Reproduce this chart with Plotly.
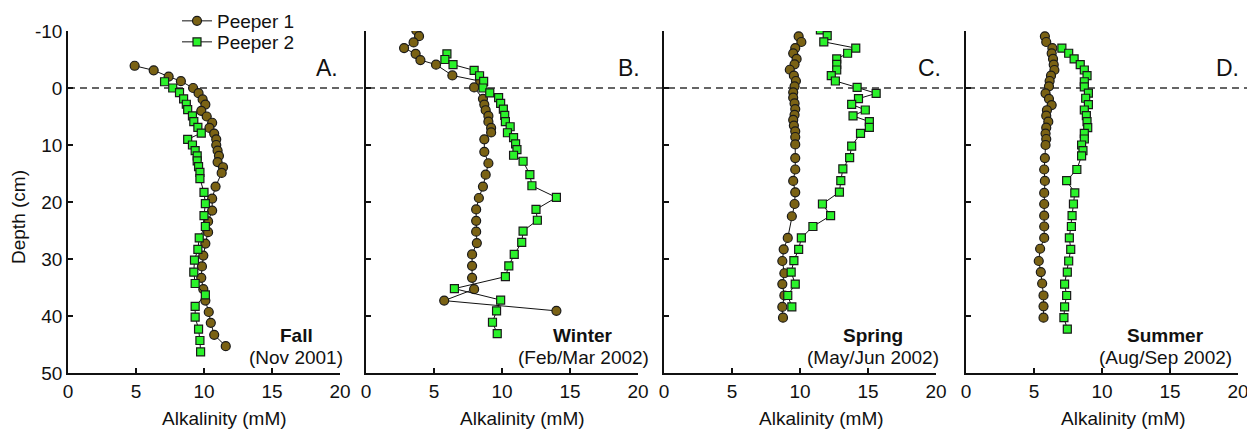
import plotly.graph_objects as go

# ---------------- data ----------------
depth_ticks = [-10, 0, 10, 20, 30, 40, 50]
depth_ticktext = ["-10", "0", "10", "20", "30", "40", "50"]
alk_ticks = [0, 5, 10, 15, 20]
alk_ticktext = ["0", "5", "10", "15", "20"]

panel_letters = ["A.", "B.", "C.", "D."]
season_names = ["Fall", "Winter", "Spring", "Summer"]
season_dates = ["(Nov 2001)", "(Feb/Mar 2002)", "(May/Jun 2002)", "(Aug/Sep 2002)"]
series_names = ["Peeper 1", "Peeper 2"]

A_p1_depth = [-3.9, -3.1, -2.0, -1.2, 0.0, 0.9, 2.0, 2.9, 4.0, 5.0, 6.1, 7.0, 8.0, 9.0, 10.0, 11.0, 11.9, 13.0,
              13.9, 14.9, 17.3, 19.4, 21.5, 23.4, 25.3, 27.3, 29.4, 31.3, 33.3, 35.3, 37.3, 39.3, 41.2, 43.3, 45.3]
A_p1_alk = [4.9, 6.3, 7.4, 8.3, 9.2, 9.6, 9.9, 10.1, 9.8, 10.2, 10.6, 10.4, 10.75, 10.9, 10.9, 11.0, 11.1, 11.0,
            11.4, 11.3, 10.85, 10.6, 10.6, 10.3, 10.3, 10.1, 9.95, 9.85, 9.8, 9.95, 10.1, 10.35, 10.5, 10.75, 11.6]
A_p2_depth = [-1.1, 0.0, 0.8, 1.9, 2.85, 3.8, 4.9, 5.9, 6.9, 7.9, 9.0, 10.0, 11.0, 11.9, 12.8, 13.8, 14.8, 15.9,
              18.3, 20.3, 22.4, 24.3, 26.3, 28.3, 30.2, 32.3, 34.3, 36.3, 38.3, 40.2, 42.3, 44.3, 46.3]
A_p2_alk = [7.1, 7.7, 8.2, 8.5, 8.7, 8.8, 9.15, 9.25, 9.55, 9.8, 8.8, 9.15, 9.35, 9.5, 9.5, 9.6, 9.7, 9.7,
            10.0, 10.1, 10.0, 10.1, 9.65, 9.55, 9.3, 9.25, 9.35, 10.1, 9.35, 9.35, 9.6, 9.7, 9.75]

B_p1_depth = [-10.1, -9.1, -8.0, -7.0, -6.0, -4.9, -4.1, -2.2, -1.2, -0.1, 1.9, 2.9, 3.9, 4.9, 5.9, 7.0, 7.8,
              9.0, 11.2, 13.2, 15.2, 17.3, 19.3, 21.3, 23.3, 25.2, 27.2, 29.2, 31.2, 33.3, 35.3, 37.3, 39.1]
B_p1_alk = [3.7, 3.9, 3.5, 2.8, 3.65, 4.0, 5.15, 6.35, 8.4, 7.95, 8.6, 8.7, 8.8, 9.0, 9.0, 9.2, 9.2,
            8.7, 8.7, 9.0, 8.8, 8.6, 8.3, 8.1, 8.1, 8.1, 8.15, 7.8, 7.8, 7.8, 7.95, 5.75, 14.0]
B_p2_depth = [-6.0, -5.0, -4.1, -3.1, -2.15, -1.16, 0.0, 0.85, 1.7, 2.7, 3.7, 4.8, 5.9, 6.8, 7.85, 8.7, 9.8,
              10.8, 11.8, 12.85, 15.2, 17.15, 19.2, 21.3, 23.2, 25.1, 27.1, 29.2, 31.2, 33.1, 35.2, 37.2, 39.1,
              41.1, 43.1]
B_p2_alk = [5.95, 5.8, 6.4, 7.95, 8.35, 8.65, 8.6, 9.1, 9.75, 9.9, 10.1, 10.2, 10.25, 10.6, 10.4, 10.85, 11.0,
            11.1, 10.85, 11.55, 12.05, 12.2, 14.0, 12.5, 12.6, 11.55, 11.45, 10.9, 10.5, 10.25, 6.5, 9.9, 9.6,
            9.3, 9.65]

C_p1_depth = [-9.06, -8.07, -7.0, -6.08, -5.1, -4.15, -3.2, -2.16, -1.23, -0.3, 0.76, 1.7, 2.7, 3.7, 4.7, 5.6,
              6.6, 7.6, 8.6, 9.9, 12.3, 14.3, 16.3, 18.3, 20.35, 22.5, 26.3, 28.3, 30.35, 32.5, 34.4, 36.4, 38.4,
              40.3]
C_p1_alk = [9.9, 10.1, 9.65, 9.5, 9.75, 9.6, 9.25, 9.55, 9.7, 9.6, 9.5, 9.5, 9.6, 9.65, 9.6, 9.5,
            9.55, 9.65, 9.65, 9.65, 9.65, 9.65, 9.5, 9.65, 9.6, 9.4, 9.1, 8.8, 8.7, 8.85, 8.7, 8.85, 8.7,
            8.75]
C_p2_depth = [-10.2, -9.2, -8.1, -7.0, -6.1, -5.1, -4.15, -3.16, -2.16, -1.23, -0.1, 0.94, 1.87, 2.87, 3.86,
              4.9, 5.9, 6.9, 7.95, 10.2, 12.2, 14.2, 16.25, 18.25, 20.35, 22.4, 24.3, 26.3, 28.3, 30.3, 32.3,
              34.4, 36.4, 38.4]
C_p2_alk = [11.5, 12.0, 11.75, 14.1, 13.5, 12.7, 12.7, 12.7, 12.3, 12.6, 14.2, 15.6, 14.3, 13.8, 14.8,
            13.9, 15.1, 15.1, 14.45, 13.8, 13.65, 13.15, 13.0, 12.9, 11.65, 12.25, 10.95, 10.1, 9.9, 9.55, 9.35,
            9.65, 9.1, 9.4]

D_p1_depth = [-9.06, -8.07, -7.0, -6.08, -5.1, -4.1, -3.16, -2.16, -1.23, -0.3, 0.94, 1.9, 3.0, 3.9, 4.85,
              5.9, 6.96, 8.0, 8.95, 10.0, 12.3, 14.3, 16.3, 18.4, 20.35, 22.4, 24.3, 26.3, 28.2, 30.35, 32.3,
              34.3, 36.4, 38.3, 40.3]
D_p1_alk = [5.8, 5.9, 6.35, 6.3, 6.4, 6.45, 6.5, 6.25, 6.15, 6.1, 5.85, 6.1, 6.3, 5.95, 5.9,
            6.05, 5.9, 5.85, 5.9, 5.85, 5.8, 5.75, 5.8, 5.75, 5.75, 5.75, 5.75, 5.75, 5.45, 5.35, 5.5,
            5.6, 5.7, 5.7, 5.7]
D_p2_depth = [-7.0, -6.1, -5.1, -4.1, -3.16, -2.16, -1.1, -0.2, 0.9, 1.8, 2.9, 3.86, 4.85, 5.9, 6.96, 7.95,
              8.95, 10.0, 11.0, 11.9, 14.3, 16.25, 18.4, 20.35, 22.4, 24.3, 26.3, 28.3, 30.35, 32.3, 34.4, 36.4,
              38.4, 40.3, 42.3]
D_p2_alk = [7.05, 7.55, 7.95, 8.4, 8.7, 8.9, 8.7, 8.7, 9.0, 8.8, 9.0, 8.7, 8.85, 8.9, 8.95, 8.7,
            8.7, 8.5, 8.6, 8.5, 8.15, 7.4, 8.0, 7.9, 7.8, 7.75, 7.6, 7.7, 7.55, 7.45, 7.25, 7.4,
            7.25, 7.2, 7.45]

panels = [
    (A_p1_alk, A_p1_depth, A_p2_alk, A_p2_depth),
    (B_p1_alk, B_p1_depth, B_p2_alk, B_p2_depth),
    (C_p1_alk, C_p1_depth, C_p2_alk, C_p2_depth),
    (D_p1_alk, D_p1_depth, D_p2_alk, D_p2_depth),
]

# ---------------- layout geometry ----------------
# The page body has an 8px margin, so the figure is drawn at (8, 8) in the window.
OFF = 8
WIN_W, WIN_H = 1255, 430
W, H = WIN_W - OFF, WIN_H - OFF
# target positions below are in window pixels
AX_LEFT, AX_RIGHT, AX_TOP, AX_BOTTOM = 68, 1238, 31, 373
ML = AX_LEFT - OFF
MR = WIN_W - AX_RIGHT
MT = AX_TOP - OFF
MB = WIN_H - AX_BOTTOM
PW = W - ML - MR
PH = H - MT - MB
panel_left_px = [68, 366, 664, 966]
panel_w_px = 272


def px2x(px):
    return (px - AX_LEFT) / PW


def px2y(py):
    return (AX_BOTTOM - py) / PH


def cx(px):
    return (px - OFF) / W


def cy(py):
    return 1 - (py - OFF) / H


FONT = "Liberation Sans, Arial, Helvetica, sans-serif"
P1_FILL = "#7a6214"
P2_FILL = "#2af22a"
EDGE = "#1a1a1a"

fig = go.Figure()

for i, (x1, y1, x2, y2) in enumerate(panels):
    xa = "x" if i == 0 else f"x{i+1}"
    ya = "y" if i == 0 else f"y{i+1}"
    fig.add_trace(go.Scatter(
        x=x1, y=y1, xaxis=xa, yaxis=ya, mode="lines+markers", name=series_names[0],
        legend="legend", legendgroup="p1", showlegend=(i == 0),
        line=dict(color="#111111", width=1),
        marker=dict(symbol="circle", size=9, color=P1_FILL, line=dict(color=EDGE, width=1.2)),
    ))
    fig.add_trace(go.Scatter(
        x=x2, y=y2, xaxis=xa, yaxis=ya, mode="lines+markers", name=series_names[1],
        legend="legend2", legendgroup="p2", showlegend=(i == 0),
        line=dict(color="#111111", width=1),
        marker=dict(symbol="square", size=8, color=P2_FILL, line=dict(color=EDGE, width=1.2)),
    ))

legend_common = dict(
    xref="container", yref="container",
    xanchor="left", yanchor="middle",
    bgcolor="rgba(0,0,0,0)", borderwidth=0,
    font=dict(family=FONT, size=19, color="#111111"),
    itemwidth=30, tracegroupgap=0,
)

layout = dict(
    width=W, height=H,
    margin=dict(l=ML, r=MR, t=MT, b=MB, pad=0, autoexpand=False),
    paper_bgcolor="white", plot_bgcolor="white",
    font=dict(family=FONT, size=19, color="#111111"),
    showlegend=True,
    legend=dict(x=cx(177), y=cy(21), **legend_common),
    legend2=dict(x=cx(177), y=cy(42), **legend_common),
)

for i in range(4):
    sx = "" if i == 0 else str(i + 1)
    d0 = px2x(panel_left_px[i])
    d1 = min(1.0, px2x(panel_left_px[i] + panel_w_px))
    layout[f"xaxis{sx}"] = dict(
        domain=[d0, d1], range=[0, 20], anchor=f"y{sx}",
        tickvals=alk_ticks, ticktext=alk_ticktext,
        ticks="inside", ticklen=5, tickwidth=1.5, tickcolor="#111111",
        showline=True, linecolor="#111111", linewidth=1.5,
        showgrid=False, zeroline=False, fixedrange=True,
        tickfont=dict(family=FONT, size=19),
    )
    layout[f"yaxis{sx}"] = dict(
        domain=[0, 1], range=[50, -10], anchor=f"x{sx}",
        tickvals=depth_ticks, ticktext=depth_ticktext,
        showticklabels=(i == 0),
        ticks="inside", ticklen=5, tickwidth=1.5, tickcolor="#111111",
        showline=True, linecolor="#111111", linewidth=1.5,
        showgrid=False, zeroline=False, fixedrange=True,
        tickfont=dict(family=FONT, size=19),
    )

fig.update_layout(**layout)

# dashed sediment-water interface line at depth 0
fig.add_shape(type="line", xref="paper", yref="y", x0=0, x1=px2x(WIN_W), y0=0, y1=0,
              line=dict(color="#333333", width=1.3, dash="7px,5px"), layer="below")

annotations = []
letter_right_px = [340, 642, 943, 1241]
season_center_px = [296, 583, 873, 1165]
title_center_px = [224, 522, 821, 1123]
for i in range(4):
    annotations.append(dict(text=panel_letters[i], xref="paper", yref="paper",
                            x=px2x(letter_right_px[i]), y=px2y(68), xanchor="right", yanchor="middle",
                            showarrow=False, font=dict(family=FONT, size=23)))
    annotations.append(dict(text=f"<b>{season_names[i]}</b>", xref="paper", yref="paper",
                            x=px2x(season_center_px[i]), y=px2y(335), xanchor="center", yanchor="middle",
                            showarrow=False, font=dict(family=FONT, size=19)))
    annotations.append(dict(text=season_dates[i], xref="paper", yref="paper",
                            x=px2x(season_center_px[i]), y=px2y(357), xanchor="center", yanchor="middle",
                            showarrow=False, font=dict(family=FONT, size=19)))
    annotations.append(dict(text="Alkalinity (mM)", xref="paper", yref="paper",
                            x=px2x(title_center_px[i]), y=px2y(418), xanchor="center", yanchor="middle",
                            showarrow=False, font=dict(family=FONT, size=19)))
annotations.append(dict(text="Depth (cm)", xref="paper", yref="paper", textangle=-90,
                        x=px2x(18), y=px2y(217), xanchor="center", yanchor="middle",
                        showarrow=False, font=dict(family=FONT, size=19)))
fig.update_layout(annotations=annotations)

fig.write_html("out.html")
